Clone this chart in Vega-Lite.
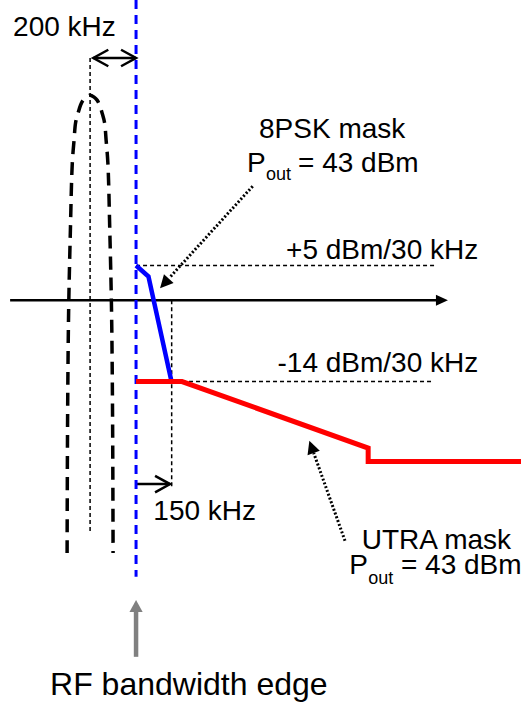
{
  "$schema": "https://vega.github.io/schema/vega-lite/v6.json",
  "description": "8PSK and UTRA spectrum masks at the RF bandwidth edge",
  "width": 521,
  "height": 702,
  "autosize": {"type": "none"},
  "padding": 0,
  "background": "white",
  "config": {"view": {"stroke": null}},
  "datasets": {
    "lines": [
      {"part": "center", "o": 1, "x": -200, "y": 39},
      {"part": "center", "o": 2, "x": -200, "y": -38.7},
      {"part": "offset", "o": 1, "x": 155, "y": -0.7},
      {"part": "offset", "o": 2, "x": 155, "y": -31.2},
      {"part": "ref5", "o": 1, "x": 0, "y": 5},
      {"part": "ref5", "o": 2, "x": 1308, "y": 5},
      {"part": "ref14", "o": 1, "x": 200, "y": -14},
      {"part": "ref14", "o": 2, "x": 1292, "y": -14},
      {"part": "axis", "o": 1, "x": -548, "y": -0.7},
      {"part": "axis", "o": 2, "x": 1330, "y": -0.7},
      {"part": "a200", "o": 1, "x": -186, "y": 39},
      {"part": "a200", "o": 2, "x": 0, "y": 39},
      {"part": "a150", "o": 1, "x": 0, "y": -30.8},
      {"part": "a150", "o": 2, "x": 148, "y": -30.8},
      {"part": "bell", "o": 1, "x": -300, "y": -42.1},
      {"part": "bell", "o": 2, "x": -297.9, "y": -20.3},
      {"part": "bell", "o": 3, "x": -293.5, "y": -2.8},
      {"part": "bell", "o": 4, "x": -285.7, "y": 10.8},
      {"part": "bell", "o": 5, "x": -277.4, "y": 21.8},
      {"part": "bell", "o": 6, "x": -269.6, "y": 25.6},
      {"part": "bell", "o": 7, "x": -263.1, "y": 28.4},
      {"part": "bell", "o": 8, "x": -252.2, "y": 30.0},
      {"part": "bell", "o": 9, "x": -241.3, "y": 31.3},
      {"part": "bell", "o": 10, "x": -230.5, "y": 32.1},
      {"part": "bell", "o": 11, "x": -217.4, "y": 32.6},
      {"part": "bell", "o": 12, "x": -200, "y": 32.9},
      {"part": "bell", "o": 13, "x": -182.6, "y": 32.6},
      {"part": "bell", "o": 14, "x": -169.5, "y": 32.1},
      {"part": "bell", "o": 15, "x": -158.7, "y": 31.3},
      {"part": "bell", "o": 16, "x": -147.8, "y": 30.0},
      {"part": "bell", "o": 17, "x": -136.9, "y": 28.4},
      {"part": "bell", "o": 18, "x": -130.4, "y": 25.6},
      {"part": "bell", "o": 19, "x": -122.6, "y": 21.8},
      {"part": "bell", "o": 20, "x": -114.3, "y": 10.8},
      {"part": "bell", "o": 21, "x": -106.5, "y": -2.8},
      {"part": "bell", "o": 22, "x": -102.1, "y": -20.3},
      {"part": "bell", "o": 23, "x": -100, "y": -42.1},
      {"part": "edge", "o": 1, "x": 0, "y": 48.5},
      {"part": "edge", "o": 2, "x": 0, "y": -46},
      {"part": "psk", "o": 1, "x": 0, "y": 5},
      {"part": "psk", "o": 2, "x": 54, "y": 3.2},
      {"part": "psk", "o": 3, "x": 153, "y": -13.8},
      {"part": "utra", "o": 1, "x": 0, "y": -14},
      {"part": "utra", "o": 2, "x": 200, "y": -14},
      {"part": "utra", "o": 3, "x": 1010, "y": -24.9},
      {"part": "utra", "o": 4, "x": 1010, "y": -27.1},
      {"part": "utra", "o": 5, "x": 1675, "y": -27.1},
      {"part": "ptr8", "o": 1, "x": 507.6, "y": 18},
      {"part": "ptr8", "o": 2, "x": 145.3, "y": 3},
      {"part": "ptru", "o": 1, "x": 909.2, "y": -40.1},
      {"part": "ptru", "o": 2, "x": 773, "y": -25.7},
      {"part": "shaft", "o": 1, "x": 0, "y": -59.1},
      {"part": "shaft", "o": 2, "x": 0, "y": -51.5}
    ],
    "heads": [
      {"head": "a200l", "x": -186, "y": 39},
      {"head": "a200r", "x": 0, "y": 39},
      {"head": "a150", "x": 148, "y": -30.8},
      {"head": "axis", "x": 1357, "y": -0.7},
      {"head": "ptr8", "x": 104.4, "y": 1.27},
      {"head": "ptru", "x": 753.9, "y": -23.7},
      {"head": "edge", "x": 0, "y": -49.8}
    ],
    "labels": [
      {"role": "big", "x": -535, "y": 42.6, "text": "200 kHz"},
      {"role": "big", "x": 535, "y": 25.9, "text": "8PSK mask"},
      {"role": "big", "x": 482.9, "y": 20.3, "text": "P"},
      {"role": "sub", "x": 565.5, "y": 19.0, "text": "out"},
      {"role": "big", "x": 704.7, "y": 20.3, "text": "= 43 dBm"},
      {"role": "right", "x": 1489, "y": 6.0, "text": "+5 dBm/30 kHz"},
      {"role": "right", "x": 1489, "y": -12.4, "text": "-14 dBm/30 kHz"},
      {"role": "big", "x": 75.3, "y": -36.7, "text": "150 kHz"},
      {"role": "big", "x": 981.8, "y": -41.4, "text": "UTRA mask"},
      {"role": "big", "x": 927.9, "y": -45.6, "text": "P"},
      {"role": "sub", "x": 1010.5, "y": -47.2, "text": "out"},
      {"role": "big", "x": 1152.8, "y": -45.6, "text": "= 43 dBm"},
      {"role": "title", "x": -374.1, "y": -65.4, "text": "RF bandwidth edge"}
    ]
  },
  "encoding": {
    "x": {"field": "x", "type": "quantitative", "scale": {"domain": [-592, 1675], "nice": false, "zero": false}, "axis": null},
    "y": {"field": "y", "type": "quantitative", "scale": {"domain": [-66.5, 48.5], "nice": false, "zero": false}, "axis": null}
  },
  "layer": [
    {
      "data": {"name": "lines"},
      "transform": [{"filter": {"field": "part", "oneOf": ["center", "offset", "ref5", "ref14"]}}],
      "mark": {"type": "line", "color": "black", "strokeWidth": 1.5, "strokeDash": [4, 3]},
      "encoding": {"detail": {"field": "part"}, "order": {"field": "o"}}
    },
    {
      "data": {"name": "lines"},
      "transform": [{"filter": {"field": "part", "oneOf": ["axis", "a200", "a150"]}}],
      "mark": {"type": "line", "color": "black", "strokeWidth": 2.5},
      "encoding": {"detail": {"field": "part"}, "order": {"field": "o"}}
    },
    {
      "data": {"name": "lines"},
      "transform": [{"filter": {"field": "part", "equal": "bell"}}],
      "mark": {"type": "line", "color": "black", "strokeWidth": 3.5, "strokeDash": [13, 8], "interpolate": "catmull-rom"},
      "encoding": {"order": {"field": "o"}}
    },
    {
      "data": {"name": "lines"},
      "transform": [{"filter": {"field": "part", "equal": "edge"}}],
      "mark": {"type": "line", "color": "#0000FF", "strokeWidth": 3, "strokeDash": [9, 6]},
      "encoding": {"order": {"field": "o"}}
    },
    {
      "data": {"name": "lines"},
      "transform": [{"filter": {"field": "part", "equal": "psk"}}],
      "mark": {"type": "line", "color": "#0000FF", "strokeWidth": 4.5},
      "encoding": {"order": {"field": "o"}}
    },
    {
      "data": {"name": "lines"},
      "transform": [{"filter": {"field": "part", "equal": "utra"}}],
      "mark": {"type": "line", "color": "#FF0000", "strokeWidth": 5},
      "encoding": {"order": {"field": "o"}}
    },
    {
      "data": {"name": "lines"},
      "transform": [{"filter": {"field": "part", "oneOf": ["ptr8", "ptru"]}}],
      "mark": {"type": "line", "color": "black", "strokeWidth": 3, "strokeDash": [2, 2]},
      "encoding": {"detail": {"field": "part"}, "order": {"field": "o"}}
    },
    {
      "data": {"name": "lines"},
      "transform": [{"filter": {"field": "part", "equal": "shaft"}}],
      "mark": {"type": "line", "color": "#808080", "strokeWidth": 4.5},
      "encoding": {"order": {"field": "o"}}
    },
    {
      "data": {"name": "heads"},
      "transform": [{"filter": {"field": "head", "oneOf": ["a200r", "a150"]}}],
      "mark": {"type": "point", "shape": "M-1,-0.55L0,0L-1,0.55", "size": 900, "filled": false, "stroke": "black", "strokeWidth": 2.5, "opacity": 1}
    },
    {
      "data": {"name": "heads"},
      "transform": [{"filter": {"field": "head", "equal": "a200l"}}],
      "mark": {"type": "point", "shape": "M1,-0.55L0,0L1,0.55", "size": 900, "filled": false, "stroke": "black", "strokeWidth": 2.5, "opacity": 1}
    },
    {
      "data": {"name": "heads"},
      "transform": [{"filter": {"field": "head", "equal": "axis"}}],
      "mark": {"type": "point", "shape": "M0,0L-1,-0.46L-1,0.46Z", "size": 576, "filled": true, "color": "black", "opacity": 1}
    },
    {
      "data": {"name": "heads"},
      "transform": [{"filter": {"field": "head", "equal": "ptr8"}}],
      "mark": {"type": "point", "shape": "M0,0L-1,-0.5L-1,0.5Z", "size": 676, "angle": 132.2, "filled": true, "color": "black", "opacity": 1}
    },
    {
      "data": {"name": "heads"},
      "transform": [{"filter": {"field": "head", "equal": "ptru"}}],
      "mark": {"type": "point", "shape": "M0,0L-1,-0.5L-1,0.5Z", "size": 676, "angle": 250.4, "filled": true, "color": "black", "opacity": 1}
    },
    {
      "data": {"name": "heads"},
      "transform": [{"filter": {"field": "head", "equal": "edge"}}],
      "mark": {"type": "point", "shape": "M0,0L0.55,1L-0.55,1Z", "size": 576, "filled": true, "color": "#808080", "opacity": 1}
    },
    {
      "data": {"name": "labels"},
      "transform": [{"filter": {"field": "role", "equal": "big"}}],
      "mark": {"type": "text", "font": "Liberation Sans", "fontSize": 28, "align": "left", "baseline": "alphabetic", "color": "black"},
      "encoding": {"text": {"field": "text"}}
    },
    {
      "data": {"name": "labels"},
      "transform": [{"filter": {"field": "role", "equal": "right"}}],
      "mark": {"type": "text", "font": "Liberation Sans", "fontSize": 28, "align": "right", "baseline": "alphabetic", "color": "black"},
      "encoding": {"text": {"field": "text"}}
    },
    {
      "data": {"name": "labels"},
      "transform": [{"filter": {"field": "role", "equal": "sub"}}],
      "mark": {"type": "text", "font": "Liberation Sans", "fontSize": 18, "align": "left", "baseline": "alphabetic", "color": "black"},
      "encoding": {"text": {"field": "text"}}
    },
    {
      "data": {"name": "labels"},
      "transform": [{"filter": {"field": "role", "equal": "title"}}],
      "mark": {"type": "text", "font": "Liberation Sans", "fontSize": 32, "align": "left", "baseline": "alphabetic", "color": "black"},
      "encoding": {"text": {"field": "text"}}
    }
  ]
}
